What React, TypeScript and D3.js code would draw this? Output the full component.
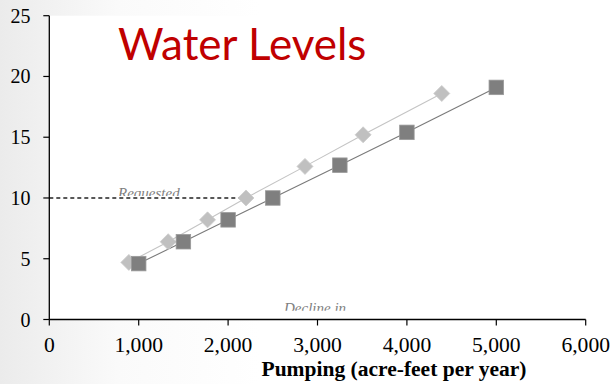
import React from "react";
import * as d3 from "d3";

// Water-level decline vs. pumping, two scenarios
const seriesAPumping = [890, 1330, 1770, 2200, 2860, 3510, 4390];
const seriesADecline = [4.7, 6.4, 8.2, 10.0, 12.6, 15.2, 18.6];
const seriesBPumping = [1000, 1500, 2000, 2500, 3250, 4000, 5000];
const seriesBDecline = [4.6, 6.4, 8.2, 10.0, 12.7, 15.4, 19.1];
const requestedPumping = [0, 2200];
const requestedDecline = 10;
const xTickValues = [0, 1000, 2000, 3000, 4000, 5000, 6000];
const yTickValues = [0, 5, 10, 15, 20, 25];

const W = 615;
const H = 384;
const left = 49.3;
const right = 585.7;
const top = 15.7;
const bottom = 319.5;

export default function App() {
  const x = d3.scaleLinear().domain([0, 6000]).range([left, right]);
  const y = d3.scaleLinear().domain([0, 25]).range([bottom, top]);
  const fmt = d3.format(",");

  const ptsA = seriesAPumping.map((v, i) => [v, seriesADecline[i]] as [number, number]);
  const ptsB = seriesBPumping.map((v, i) => [v, seriesBDecline[i]] as [number, number]);
  const line = d3
    .line<[number, number]>()
    .x((d) => x(d[0]))
    .y((d) => y(d[1]));

  const serif = "'Liberation Serif', 'Times New Roman', serif";
  const sq = 14.5;
  const dm = 8;

  return (
    <svg
      width={W}
      height={H}
      style={{ position: "absolute", left: 0, top: 0 }}
      viewBox={`0 0 ${W} ${H}`}
    >
      <defs>
        <linearGradient id="bg" x1="0" y1="0" x2="1" y2="0">
          <stop offset="0" stopColor="#ebebeb" />
          <stop offset="0.45" stopColor="#fafafa" />
          <stop offset="1" stopColor="#ffffff" />
        </linearGradient>
        <clipPath id="clipReq">
          <rect x={100} y={180} width={120} height={16} />
        </clipPath>
        <clipPath id="clipDec">
          <rect x={270} y={295} width={120} height={15.7} />
        </clipPath>
      </defs>
      <rect x={0} y={0} width={W} height={H} fill="#ffffff" />
      <rect x={0} y={0} width={260} height={H} fill="url(#bg)" />
      <rect x={left} y={top} width={right - left} height={bottom - top} fill="#ffffff" />

      {/* title */}
      <text
        x={118}
        y={59.5}
        fill="#c00000"
        fontFamily="Lato, 'Open Sans', sans-serif"
        fontSize={44}
      >
        Water Levels
      </text>

      {/* partially hidden annotations */}
      <g clipPath="url(#clipReq)">
        <text x={118} y={198.3} fontFamily={serif} fontStyle="italic" fontSize={15} fill="#808080">
          Requested
        </text>
      </g>
      <g clipPath="url(#clipDec)">
        <text x={284} y={313.3} fontFamily={serif} fontStyle="italic" fontSize={15} fill="#808080">
          Decline in
        </text>
      </g>

      {/* requested level */}
      <line
        x1={x(requestedPumping[0])}
        x2={x(requestedPumping[1])}
        y1={y(requestedDecline)}
        y2={y(requestedDecline)}
        stroke="#222222"
        strokeWidth={1.3}
        strokeDasharray="4,3"
      />

      {/* series lines */}
      <path d={line(ptsA) || ""} fill="none" stroke="#c4c4c4" strokeWidth={1.1} />
      <path d={line(ptsB) || ""} fill="none" stroke="#7a7a7a" strokeWidth={1.1} />

      {/* diamond markers */}
      {ptsA.map((d, i) => {
        const cx = x(d[0]);
        const cy = y(d[1]);
        return (
          <path
            key={"a" + i}
            d={`M${cx},${cy - dm}L${cx + dm},${cy}L${cx},${cy + dm}L${cx - dm},${cy}Z`}
            fill="#c0c0c0"
            stroke="#cccccc"
            strokeWidth={0.8}
          />
        );
      })}

      {/* square markers */}
      {ptsB.map((d, i) => (
        <rect
          key={"b" + i}
          x={x(d[0]) - sq / 2}
          y={y(d[1]) - sq / 2}
          width={sq}
          height={sq}
          fill="#7f7f7f"
          stroke="#999999"
          strokeWidth={0.8}
        />
      ))}

      {/* axes */}
      <line x1={left} x2={left} y1={top} y2={bottom} stroke="#000" strokeWidth={1.3} />
      <line x1={left} x2={right} y1={bottom} y2={bottom} stroke="#000" strokeWidth={1.3} />
      {yTickValues.map((t) => (
        <g key={"y" + t}>
          <line x1={left - 6} x2={left} y1={y(t)} y2={y(t)} stroke="#000" strokeWidth={1.2} />
          <text
            x={30.5}
            y={y(t)}
            dy="0.35em"
            textAnchor="end"
            fontFamily={serif}
            fontSize={20}
            fill="#000"
          >
            {t}
          </text>
        </g>
      ))}
      {xTickValues.map((t) => (
        <g key={"x" + t} transform={`translate(${x(t)},352) scale(1.08,1)`}>
          <line x1={0} x2={0} y1={bottom - 352} y2={bottom - 346} stroke="#000" strokeWidth={1.1} />
          <text x={0} y={0} textAnchor="middle" fontFamily={serif} fontSize={20} fill="#000">
            {fmt(t)}
          </text>
        </g>
      ))}
      <text
        x={394}
        y={376}
        textAnchor="middle"
        fontFamily={serif}
        fontWeight="bold"
        fontSize={20}
        textLength={265}
        lengthAdjust="spacingAndGlyphs"
        fill="#000"
      >
        Pumping (acre-feet per year)
      </text>
    </svg>
  );
}
